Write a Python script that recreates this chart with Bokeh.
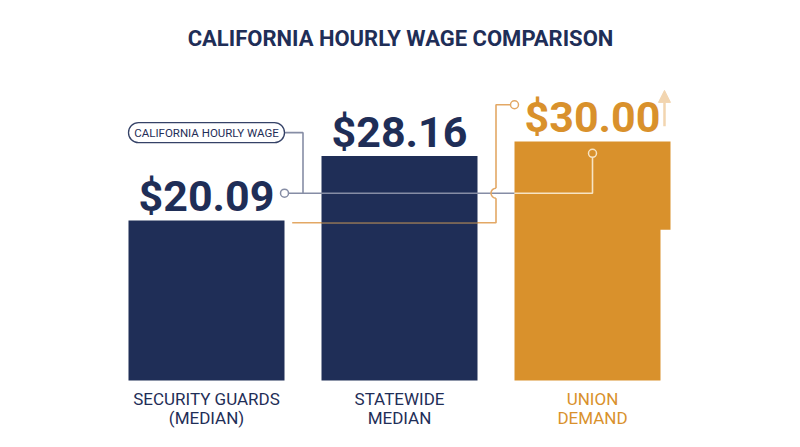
from math import pi
from bokeh.plotting import figure
from bokeh.models import Range1d, Label, BoxAnnotation, Arrow, NormalHead, ColumnDataSource
from bokeh.core.properties import value
from bokeh.embed import file_html
from bokeh.resources import INLINE

# ---------------- data ----------------
title = "CALIFORNIA HOURLY WAGE COMPARISON"
categories = ["SECURITY GUARDS\n(MEDIAN)", "STATEWIDE\nMEDIAN", "UNION\nDEMAND"]
wages = [20.09, 28.16, 30.00]
wage_labels = ["$20.09", "$28.16", "$30.00"]
callout_text = "CALIFORNIA HOURLY WAGE"

# ---------------- style ----------------
NAVY = "#1F2E57"
ORANGE = "#D9912C"
PEACH = "#F2D5B0"
GREY = "#868DA5"
CREAM = "#F7E4C4"
LORANGE = "#E3A865"
bar_colors = [NAVY, NAVY, ORANGE]
label_colors = [NAVY, NAVY, ORANGE]

W, H = 784, 431
PX_X = 193.0      # pixels per category step
PX_Y = 7.97       # pixels per dollar
x0 = -206 / PX_X
y0 = -(H - 380) / PX_Y
BAR_W = 156 / PX_X
HALF = BAR_W / 2

p = figure(width=W, height=H, output_backend="svg", toolbar_location=None,
           x_range=Range1d(x0, x0 + W / PX_X), y_range=Range1d(y0, y0 + H / PX_Y),
           x_axis_location=None, y_axis_location=None,
           min_border=0, outline_line_color=None,
           background_fill_color="white", border_fill_color="white")
p.grid.visible = False

xs = list(range(len(wages)))
src = ColumnDataSource(dict(
    x=xs, top=wages, color=bar_colors, lc=label_colors, label=wage_labels,
    line1=[c.split("\n")[0] for c in categories],
    line2=[c.split("\n")[1] for c in categories],
))

# bars
p.vbar(x="x", top="top", bottom=0, width=BAR_W, fill_color="color",
       line_color=None, source=src)

# small notch on the right side of the last bar
v3 = wages[2]
p.quad(left=[xs[2] + HALF - 10 / PX_X], right=[xs[2] + HALF + 0.02],
       bottom=[-0.2], top=[v3 * 0.63], fill_color="white", line_color=None)

# value labels
p.text(x="x", y="top", text="label", text_color="lc",
       text_font=value("Roboto"), text_font_style="bold",
       text_font_size="43px", text_align="center", text_baseline="alphabetic",
       y_offset=-24, source=src)

# category labels
for col, off in (("line1", 18), ("line2", 37)):
    p.text(x="x", y=0, text=col, text_color="lc", text_font=value("Roboto"),
           text_font_size="17px", text_align="center", text_baseline="alphabetic",
           y_offset=off, source=src)

# ---------------- connectors ----------------
line_y = 23.5
pill_y = 31.1
o_y = wages[0] - 0.3
o_top = v3 + 4.6

# pill connector (grey)
p.line(x=[HALF, 0.5, 0.5], y=[pill_y, pill_y, line_y], line_color=GREY, line_width=1.6)
# main grey line
p.line(x=[HALF, xs[2] - HALF], y=[line_y, line_y], line_color=GREY, line_width=1.6)
p.line(x=[xs[2] - HALF, xs[2], xs[2]], y=[line_y, line_y, v3 - 1.5],
       line_color=CREAM, line_width=1.6)

# orange connector with hop
hop = 5 / PX_Y
p.line(x=[0.444, 1.5, 1.5], y=[o_y, o_y, line_y - hop], line_color=LORANGE, line_width=1.6)
p.line(x=[xs[1] - HALF, xs[1] + HALF], y=[o_y, o_y], line_color="#6F6055", line_width=1.6)
p.arc(x=[1.5], y=[line_y], radius=5, radius_units="screen", start_angle=pi / 2,
      end_angle=3 * pi / 2, direction="anticlock", line_color=LORANGE, line_width=1.6)
p.line(x=[1.5, 1.5, xs[2] - HALF], y=[line_y + hop, o_top, o_top],
       line_color=LORANGE, line_width=1.6)

# circles
p.scatter(x=[HALF], y=[line_y], size=8, marker="circle", fill_color="white",
          line_color=GREY, line_width=1.5)
p.scatter(x=[xs[2]], y=[v3 - 1.5], size=8, marker="circle", fill_color=ORANGE,
          line_color=CREAM, line_width=1.5)
p.scatter(x=[xs[2] - HALF], y=[o_top], size=8, marker="circle", fill_color="white",
          line_color=LORANGE, line_width=1.5)

# up arrow next to union demand
p.add_layout(Arrow(end=NormalHead(size=12, fill_color=PEACH, line_color=PEACH),
                   x_start=2.373, y_start=v3 + 1.9, x_end=2.373, y_end=v3 + 6.4,
                   line_color=PEACH, line_width=2.5))

# pill callout
p.add_layout(BoxAnnotation(left=-HALF, right=HALF, bottom=pill_y - 10 / PX_Y,
                           top=pill_y + 10 / PX_Y, fill_color="white", fill_alpha=1,
                           line_color=NAVY, line_width=1.3, line_alpha=0.9,
                           border_radius=10))
p.add_layout(Label(x=0, y=pill_y, text=callout_text, text_align="center",
                   text_baseline="middle", text_font="Roboto",
                   text_font_size="11.5px", text_color=NAVY))

# title
p.add_layout(Label(x=W / 2 + 8, y=H - 38, x_units="screen", y_units="screen", text=title,
                   text_align="center", text_baseline="alphabetic",
                   text_font="Roboto", text_font_style="bold",
                   text_font_size="22px", text_color=NAVY))

open("out.html", "w").write(file_html(p, INLINE))
